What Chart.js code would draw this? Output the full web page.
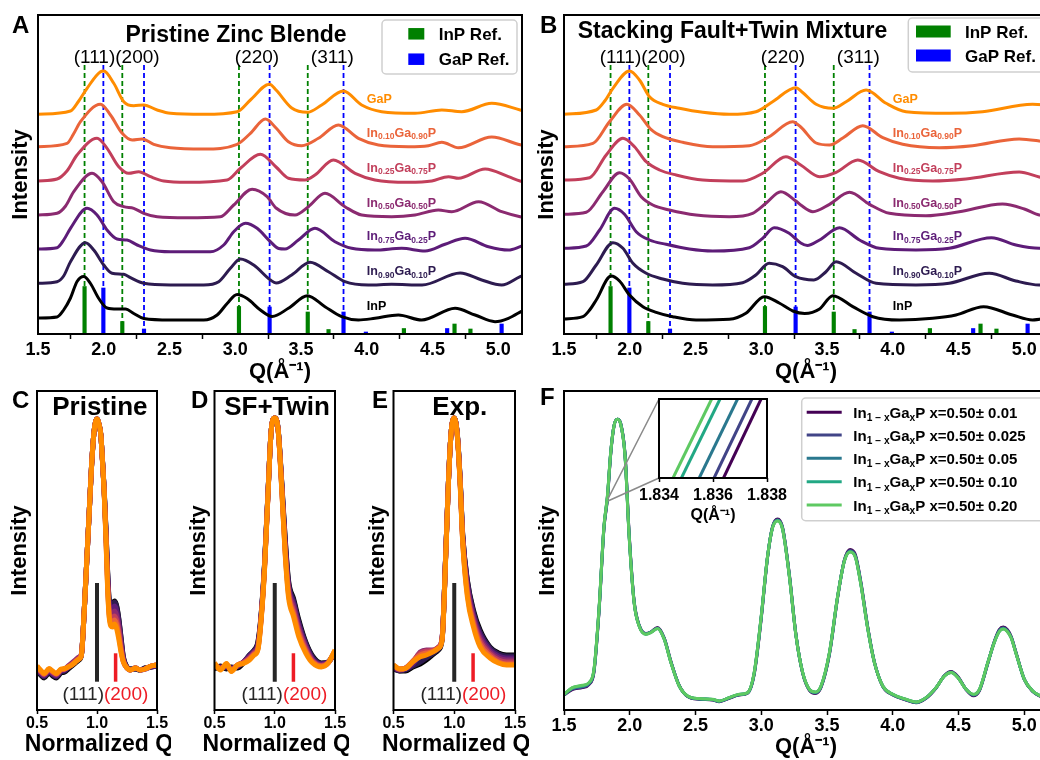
<!DOCTYPE html>
<html><head><meta charset="utf-8"><title>InGaP diffraction figure</title>
<script src="https://cdn.jsdelivr.net/npm/chart.js@4.4.1/dist/chart.umd.min.js"></script>
<style>
html,body{margin:0;padding:0;background:#fff;overflow:hidden;}
body{width:1040px;height:760px;position:relative;}
canvas{position:absolute;display:block;}
</style></head><body>
<canvas id="cA"></canvas><canvas id="cB"></canvas><canvas id="cC"></canvas><canvas id="cD"></canvas><canvas id="cE"></canvas><canvas id="cF"></canvas><canvas id="cIn"></canvas>
<script>
// ---------------- DATA ----------------
const sampleNames = ['InP','In0.90Ga0.10P','In0.75Ga0.25P','In0.50Ga0.50P','In0.25Ga0.75P','In0.10Ga0.90P','GaP'];

// reference reflections (Q in 1/A, bar height in a.u.)
const inpRefQ = [1.854, 2.141, 3.028, 3.551, 3.709, 4.282, 4.667, 4.788];
const inpRefI = [47.5, 12.5, 27.5, 22, 4.5, 5.5, 10, 5];
const gapRefQ = [1.997, 2.306, 3.261, 3.823, 3.993, 4.611, 5.025];
const gapRefI = [46, 5, 27, 22, 2, 5.5, 10];
const inpHklQ = [1.854, 2.141, 3.028, 3.551];
const gapHklQ = [1.997, 2.306, 3.261, 3.823];
const hklLineTop = 269;
const hklLabels = ['(111)(200)', '(220)', '(311)'];
const hklLabelQ = [2.098, 3.165, 3.738];
const refNames = ['InP Ref.', 'GaP Ref.'];

const xTicksQ = [1.5, 2.0, 2.5, 3.0, 3.5, 4.0, 4.5, 5.0];
const xTickLabelsQ = ['1.5','2.0','2.5','3.0','3.5','4.0','4.5','5.0'];
const xTicksN = [0.5, 1.0, 1.5];
const xTickLabelsN = ['0.5','1.0','1.5'];

// Panel A: pristine zinc blende, offset curves [Q, I]
const A_InP = [[1.5,16],[1.645,17],[1.695,24],[1.747,36],[1.797,52.5],[1.848,57.5],[1.899,50.5],[1.962,35.5],[2.025,26],[2.101,25],[2.165,25],[2.228,20.5],[2.304,15.5],[2.507,14],[2.76,14],[2.862,19],[2.938,30.5],[3.014,39.5],[3.09,35.5],[3.191,24],[3.28,17.5],[3.404,25.7],[3.548,38.3],[3.682,27.3],[3.809,17.3],[3.936,14],[4.062,15.7],[4.24,19],[4.417,14],[4.671,25.7],[4.823,19],[4.975,12.3],[5.077,15.7],[5.18,23]];
const A_In090 = [[1.5,50.7],[1.645,52.3],[1.695,58],[1.747,72.3],[1.861,91.3],[1.924,84],[2.0,69],[2.063,60.7],[2.152,59.7],[2.203,56.3],[2.304,50.7],[2.507,49],[2.76,49],[2.874,52.3],[2.963,65.7],[3.039,75],[3.14,69],[3.267,54],[3.31,51],[3.429,59],[3.568,71.7],[3.708,62.3],[3.834,52.3],[4.012,49],[4.189,49.7],[4.42,49],[4.71,61],[4.874,54],[5.026,49],[5.166,57.3],[5.18,58]];
const A_In075 = [[1.5,85],[1.645,86.3],[1.7,95],[1.747,105.7],[1.873,125.7],[1.949,119],[2.025,104],[2.101,95],[2.177,94],[2.254,89],[2.355,84],[2.507,82.3],[2.811,82.3],[2.912,89],[2.988,102.3],[3.077,110.7],[3.166,105.7],[3.267,92.3],[3.33,85.5],[3.378,85],[3.48,94],[3.606,105.7],[3.758,92.3],[3.885,85.7],[4.062,84],[4.265,85.7],[4.443,83],[4.595,89.7],[4.747,95.7],[4.925,87.3],[5.077,84],[5.166,87.3],[5.18,88]];
const A_In050 = [[1.5,119],[1.645,120.7],[1.71,128],[1.772,142.3],[1.911,160.7],[1.987,152.3],[2.076,132.3],[2.152,127.3],[2.228,125.7],[2.304,120.7],[2.406,117.3],[2.634,116.3],[2.887,117.3],[2.988,129],[3.128,144.7],[3.242,137.3],[3.31,126],[3.454,119],[3.556,127.3],[3.682,140.7],[3.834,127.3],[3.961,119],[4.189,117.3],[4.367,119],[4.544,124],[4.646,122.3],[4.85,132.3],[5.026,122.3],[5.166,117.3],[5.18,117]];
const A_In025 = [[1.5,153],[1.645,155],[1.72,163],[1.797,179],[1.949,195.7],[2.025,185.7],[2.114,167.3],[2.19,160.7],[2.266,162.3],[2.355,157.3],[2.456,153],[2.634,151.7],[2.938,154],[3.039,165.7],[3.191,179.7],[3.31,167],[3.404,155.7],[3.53,154],[3.606,159],[3.746,174],[3.911,160.7],[4.062,154],[4.316,151.7],[4.494,153],[4.621,157.3],[4.697,155.7],[4.9,165],[5.077,157.3],[5.166,153],[5.18,152.5]];
const A_In010 = [[1.5,187.3],[1.721,190.7],[1.77,200],[1.823,212.3],[1.975,229.7],[2.051,219],[2.14,200.7],[2.216,194],[2.292,195],[2.38,189.7],[2.507,186.3],[2.76,185],[3.014,189.7],[3.115,200.7],[3.229,215],[3.31,206],[3.404,192.3],[3.505,188.3],[3.632,195.7],[3.784,209],[3.936,195.7],[4.088,189],[4.316,187.3],[4.468,188.3],[4.57,191.7],[4.697,186.3],[4.95,197],[5.166,189.3],[5.18,189]];
const A_GaP = [[1.5,219.7],[1.747,223],[1.81,233],[1.873,245.7],[1.975,262.3],[2.0,263],[2.076,250.7],[2.152,232.3],[2.228,228.3],[2.304,229],[2.406,224],[2.507,220.7],[2.76,219.7],[3.014,222.3],[3.115,234],[3.26,249.7],[3.31,244],[3.429,226],[3.548,221.7],[3.657,229],[3.822,243],[3.961,229],[4.113,222.3],[4.367,220.7],[4.57,224],[4.722,222.3],[4.95,230.7],[5.166,224],[5.18,223.5]];

// Panel B: stacking fault + twin mixture
const B_InP = [[1.5,15],[1.644,17.3],[1.695,24],[1.745,34],[1.859,58],[1.922,53],[1.998,39],[2.1,27.3],[2.201,21.7],[2.327,17.3],[2.504,14],[2.757,14.7],[2.883,20.7],[3.023,37.3],[3.136,31],[3.24,23],[3.33,20.5],[3.443,25],[3.544,38.3],[3.696,27.3],[3.848,17.3],[4.05,14],[4.303,15.7],[4.48,19],[4.69,27.3],[4.91,19],[5.062,14],[5.18,16.5]];
const B_In090 = [[1.5,49.7],[1.644,52.3],[1.745,69],[1.872,91.3],[1.948,85.7],[2.024,70.7],[2.125,60.7],[2.251,55],[2.403,50.7],[2.63,49],[2.858,51.3],[2.959,59],[3.06,70.7],[3.162,67.3],[3.263,57.3],[3.4,54],[3.49,62],[3.569,72.3],[3.721,60.7],[3.873,50.7],[4.176,49],[4.429,50.7],[4.733,60.7],[4.936,53],[5.113,49],[5.18,50]];
const B_In075 = [[1.5,85.7],[1.669,88],[1.771,104],[1.884,125.7],[1.96,119.7],[2.049,102.3],[2.15,94],[2.276,89.7],[2.453,85],[2.63,83],[2.909,86.3],[3.01,95.7],[3.098,106.3],[3.212,100.7],[3.3,91],[3.35,88.5],[3.443,94],[3.595,106.3],[3.747,94],[3.898,85.7],[4.176,84],[4.429,85.7],[4.75,96.3],[4.936,89],[5.113,85.7],[5.18,86]];
const B_In050 = [[1.5,119.7],[1.669,121.7],[1.796,142.3],[1.922,161.3],[1.998,155],[2.087,137.3],[2.175,129],[2.302,124],[2.504,119],[2.757,117.3],[2.934,120.7],[3.035,130.7],[3.149,142.3],[3.263,133],[3.3,129],[3.392,122.3],[3.519,129.7],[3.671,141.7],[3.823,129.7],[3.974,120.7],[4.252,118.3],[4.505,122.3],[4.834,130],[5.0,125],[5.113,119],[5.18,118.5]];
const B_In025 = [[1.5,154],[1.695,156.3],[1.821,179],[1.948,195.7],[2.036,187.3],[2.125,172.3],[2.226,164],[2.352,159],[2.555,154],[2.858,153],[3.01,160.7],[3.187,177.3],[3.3,169],[3.443,157.3],[3.569,161.7],[3.734,174],[3.898,162.3],[4.05,155.7],[4.303,153],[4.556,155],[4.961,162],[5.113,157],[5.18,155]];
const B_In010 = [[1.5,187.3],[1.72,190.7],[1.846,212.3],[1.978,229.7],[2.074,219],[2.163,204.3],[2.251,197.3],[2.403,191.7],[2.63,187.3],[2.909,188.3],[3.06,197.3],[3.238,212.3],[3.3,207],[3.417,191],[3.519,189],[3.62,196],[3.772,208.3],[3.924,196.3],[4.075,189.7],[4.353,186.3],[4.606,188.3],[4.961,195],[5.113,193],[5.18,191.5]];
const B_GaP = [[1.5,219.7],[1.745,224],[1.81,233],[1.872,245.7],[1.998,263],[2.074,254],[2.15,237.3],[2.251,229.7],[2.377,225.7],[2.555,221.7],[2.757,219.7],[2.959,222.3],[3.086,232.3],[3.263,246.3],[3.31,242],[3.417,229.7],[3.544,225.7],[3.645,232.3],[3.797,244],[3.949,230.7],[4.1,222.3],[4.429,220.7],[4.682,222.3],[5.062,229.7],[5.18,229]];

// Panel C: pristine, normalized Q around (111)
const cQ = [0.5,0.53,0.56,0.6,0.63,0.66,0.7,0.73,0.76,0.79,0.82,0.85,0.87,0.894,0.915,0.936,0.955,0.977,1.0,1.02,1.032,1.045,1.06,1.075,1.088,1.1,1.115,1.13,1.145,1.16,1.18,1.2,1.22,1.25,1.28,1.32,1.36,1.4,1.45,1.5];
const C_InP  = [39,35,32,37,34,32,37,38,41,44,47,50,55,100,150,200,245,280,291,284,275,251,220,180,140,112,103,106,109,106,93,73,53,43,41,41,40,42,43,44];
const C_In090 = [40,36,33,38,35,33,38,39,42,45,48,51,55,100,150,200,245,280,291,284,275,251,219,179,139,111,101,105,108,105,92,72,52,43,41,41,40,42,43,44];
const C_In075 = [40,37,34,39,36,34,39,40,43,46,49,52,55,100,150,200,245,280,291,284,275,251,219,177,136,108,98,101,104,101,88,69,51,42,40,42,40,41,43,44];
const C_In050 = [41,38,35,40,37,35,40,41,44,47,50,53,56,100,150,200,245,280,291,284,275,250,218,175,132,104,94,96,99,96,84,65,50,42,40,42,40,41,44,45];
const C_In025 = [42,39,35.5,40.5,38,36,40,41,43.5,46,49,52,56,100,150,200,245,280,291,284,275,250,218,173,128,100,90,92,94,91,80,62,49,42,40,42,40,41,44,45];
const C_In010 = [43,39,36,41,38.5,36,40.5,41,43,45,48,51,55,100,150,200,245,280,291,284,275,250,217,171,125,97,87,88,90,87,76,60,48,42,40,42,40,41,44,45];
const C_GaP  = [44,40,36.5,41.5,39,36.5,41,41.5,43,45,48,51,55,100,150,200,245,280,291,284,275,250,217,170,123,95,84,83,86,83,72,58,48,42,40,42,40,41,44,45];

// Panel D: SF + twin
const dQ = [0.5,0.55,0.6,0.64,0.69,0.74,0.79,0.83,0.86,0.885,0.915,0.943,0.971,1.0,1.028,1.057,1.086,1.114,1.157,1.2,1.257,1.314,1.386,1.443,1.5];
const D_InP  = [41,44,41,43,42,47,55,60,68,93,146,216,280,292,281,230,173,130,111,90,68,54,47,48,57];
const D_In090 = [42,43,42,42,43,48,55,60,67,92,145,215,280,292,281,229,171,128,109,88,67,53,46.5,48,57];
const D_In075 = [43,43,43,42,44,48,54,59,65,91,144,215,280,292,281,228,168,125,106,85,65,51,46,48,58];
const D_In050 = [44,42,44,41,44,48,53,58,64,90,143,214,280,292,280,226,164,122,103,82,63,50,45,47.5,58];
const D_In025 = [45,42,45,40,45,47.5,52,57,62,89,142,214,280,292,280,225,161,119,99,79,61,49,44.5,47,59];
const D_In010 = [46,41,46,39,45,47,51,56,61,88,141,213,280,292,280,224,159,116,96,76,59,48,44,47,59];
const D_GaP  = [47,40,46.5,38.5,45,46.5,50,55,60,87,140,213,280,292,280,223,157,113,93,73,57,47,43,47,60];

// Panel E: experiment
const eQ = [0.5,0.55,0.6,0.66,0.72,0.77,0.83,0.87,0.9,0.932,0.952,0.974,1.0,1.026,1.048,1.07,1.108,1.158,1.213,1.295,1.364,1.43,1.5];
const E_InP  = [41,39,39,43,46,50,56,60,70,163,228,277,292,275,232,175,130,100,80,63,57,55,55];
const E_In090 = [41,39,40,44,48,52,57,61,71,163,228,277,292,275,232,174,129,98,78,62,56,54,54];
const E_In075 = [42,40,41,46,55,57,59,62,72,163,228,277,292,274,231,173,126,95,75,60,54,52,52];
const E_In050 = [43,40,42,48,58,60,60,63,72,162,228,277,292,274,230,171,122,92,72,58,52,50,50];
const E_In025 = [44,41,42,49,57,59,60,63,72,162,227,277,292,274,229,169,119,89,69,56,50,48,48];
const E_In010 = [45,41,42,49,55,57,59,62,71,161,227,277,292,273,228,168,116,86,66,54,48,46,46];
const E_GaP  = [45,41,41.7,48.3,53.3,55,58.3,61.7,70,160,227,277,292,273,227,167,113,83,63,52,47,45,45];

// (111) and (200) markers for C-E
const hklMarkQ = [1.0, 1.155];
const hklMarkTop = [127, 56.7];
const hklMarkBase = 28.3;

// Panel F: composition-spread simulations
const fUncert = ['0.01','0.025','0.05','0.10','0.20'];
const fQ = [1.5,1.563,1.64,1.69,1.728,1.766,1.804,1.83,1.855,1.88,
  1.906,1.931,1.964,1.995,2.033,2.071,2.122,2.16,2.211,2.262,
  2.313,2.376,2.44,2.528,2.63,2.68,2.756,2.832,2.896,2.946,
  2.997,3.048,3.086,3.124,3.162,3.213,3.264,3.315,3.366,3.411,
  3.454,3.518,3.581,3.632,3.675,3.716,3.759,3.81,3.86,3.924,
  4.0,4.1,4.177,4.253,4.329,4.393,4.443,4.494,4.557,4.613,
  4.659,4.722,4.773,4.81,4.84,4.87,4.9,4.938,5.0,5.064,
  5.115,5.18];
const F_001 = [15,20.5,22.5,25.5,38,98,182,211,256,284,
  290.7,286.5,256,177,109,85,76.5,78,82.5,72,
  48.5,24.5,13.5,10.7,10,8.3,11.7,15,16.7,35.5,
  88.5,153,183.5,191,182.5,136,75,36.5,19.5,16.5,
  22.5,55.5,113,150,160.5,155,126.5,82.5,48,23.5,
  15,10,7.3,11.7,22,34.5,38.5,33.5,20.5,14.3,
  19.5,46.5,69,80.5,83,80.5,73.5,57,30.5,18.5,
  14,11.5];
const F_0025 = [15.2,21,23,26,38.8,98.8,182.6,212,256.5,284,
  290.7,286.3,255.5,176,108.5,84.7,76.2,77.8,82,71.6,
  48,24.3,13.7,11,10.3,8.6,12,15.3,17,36.2,
  89.3,153.4,183.1,190.3,181.8,135.2,74.6,37,20,17.1,
  23.1,56.2,113.4,149.6,159.6,154,125.6,81.8,47.8,23.7,
  15.3,10.3,7.6,12,22.2,34.3,38.1,33.1,20.6,14.8,
  20,46.8,68.6,79.8,82.2,79.8,73,56.6,30.6,18.7,
  14.3,11.7];
const F_005 = [15.4,21.6,23.7,26.6,39.6,99.6,183.2,212.8,257,284,
  290.7,286,254.8,175.2,108,84.4,76,77.6,81.8,71.2,
  47.8,24.1,13.8,11.2,10.5,8.8,12.2,15.5,17.2,36.8,
  90,153.7,182.8,189.7,181.3,134.6,74.3,37.2,20.3,17.5,
  23.5,56.8,113.7,149.3,158.8,153.2,124.8,81.2,47.6,23.8,
  15.5,10.5,7.8,12.2,22.3,34.2,37.8,32.8,20.7,15.2,
  20.3,47.1,68.3,79.1,81.6,79.1,72.5,56.3,30.7,18.8,
  14.5,11.8];
const F_010 = [15.6,22.1,24.3,27.1,40.2,100.2,183.6,213.5,257.2,284,
  290.7,285.8,254.3,174.5,107.6,84.2,75.8,77.5,81.6,70.9,
  47.6,24,13.9,11.3,10.6,8.9,12.3,15.6,17.3,37.1,
  90.4,153.9,182.6,189.3,180.9,134.2,74.1,37.3,20.5,17.8,
  23.8,57.1,113.9,149.1,158.3,152.7,124.3,80.9,47.5,23.9,
  15.6,10.6,7.9,12.3,22.4,34.1,37.6,32.6,20.7,15.5,
  20.5,47.3,68.1,78.7,81.2,78.7,72.2,56.1,30.7,18.9,
  14.6,11.9];
const F_020 = [15.7,22.4,24.7,27.4,40.7,100.7,184,214,257.4,284,
  290.7,285.7,254,174,107.4,84,75.7,77.4,81.4,70.7,
  47.4,24,14,11.4,10.7,9,12.4,15.7,17.4,37.4,
  90.7,154,182.4,189,180.7,134,74,37.4,20.7,18,
  24,57.4,114,149,158,152.4,124,80.7,47.4,24,
  15.7,10.7,8,12.4,22.4,34,37.4,32.4,20.7,15.7,
  20.7,47.4,68,78.5,81,78.5,72,56,30.7,19,
  14.7,12];
// inset: leading-edge crossing of each curve (bottom / top of inset window)
const insetTicks = [1.834, 1.836, 1.838];
const insetTickLabels = ['1.834','1.836','1.838'];
const insetQLo = [1.83639, 1.83604, 1.83549, 1.83483, 1.83452];
const insetQHi = [1.83778, 1.83744, 1.83691, 1.83626, 1.83595];
const insetYLo = 209.0;
const insetYHi = 211.05;

// ---------------- STYLE ----------------
const FONT = '"Liberation Sans", Arial, Helvetica, sans-serif';
const sampleColors = ['#000000','#2d1b50','#5d1c78','#8b2a70','#c23f5b','#ea643a','#ff8c00'];
const refColors = ['#008000', '#0000ff'];
const fColors = ['#440154','#414487','#2a788e','#22a884','#5ec962'];
const RED = '#ee1c25';
Chart.defaults.font.family = FONT;
Chart.defaults.color = '#000';

// ---------------- HELPERS ----------------
function place(id, l, t, w, h) {
  const c = document.getElementById(id);
  c.width = w; c.height = h;
  c.style.left = l + 'px'; c.style.top = t + 'px';
  c.style.width = w + 'px'; c.style.height = h + 'px';
  return c;
}
function txt(ctx, s, x, y, size, weight, color, align, base) {
  ctx.font = weight + ' ' + size + 'px ' + FONT;
  ctx.fillStyle = color; ctx.textAlign = align || 'left'; ctx.textBaseline = base || 'alphabetic';
  ctx.fillText(s, x, y);
}
function rich(ctx, segs, x, y, size, weight, color, align) {
  const sub = size * 0.68;
  let w = 0;
  segs.forEach(([t, m]) => { ctx.font = weight + ' ' + (m ? sub : size) + 'px ' + FONT; w += ctx.measureText(t).width; });
  let cx = align === 'center' ? x - w / 2 : align === 'right' ? x - w : x;
  ctx.fillStyle = color; ctx.textAlign = 'left'; ctx.textBaseline = 'alphabetic';
  segs.forEach(([t, m]) => {
    ctx.font = weight + ' ' + (m ? sub : size) + 'px ' + FONT;
    ctx.fillText(t, cx, y + (m === 'sub' ? size * 0.22 : m === 'sup' ? -size * 0.4 : 0));
    cx += ctx.measureText(t).width;
  });
}
function formulaSegs(name) {
  return name.match(/[A-Za-z]+|[0-9.]+/g).map(t => /[0-9]/.test(t) ? [t, 'sub'] : [t, '']);
}
function roundRect(ctx, x, y, w, h, r) {
  ctx.beginPath(); ctx.moveTo(x + r, y);
  ctx.arcTo(x + w, y, x + w, y + h, r); ctx.arcTo(x + w, y + h, x, y + h, r);
  ctx.arcTo(x, y + h, x, y, r); ctx.arcTo(x, y, x + w, y, r); ctx.closePath();
}
function legendBox(ctx, x, y, w, h) {
  roundRect(ctx, x, y, w, h, 4);
  ctx.fillStyle = 'rgba(255,255,255,0.85)'; ctx.fill();
  ctx.strokeStyle = '#cfcfcf'; ctx.lineWidth = 1.5; ctx.stroke();
}
const lineDS = (pts, color, width, order, extra) => Object.assign({
  type: 'line', data: pts.map(p => ({x: p[0], y: p[1]})), borderColor: color, borderWidth: width,
  pointRadius: 0, fill: false, cubicInterpolationMode: 'monotone', order: order
}, extra || {});
const seriesDS = (qs, vals, color, width, order) => lineDS(qs.map((q, i) => [q, vals[i]]), color, width, order);
function vlinesDS(qs, top, color) {
  const d = [];
  qs.forEach(q => { d.push({x: q, y: 0}, {x: q, y: top}, {x: q, y: null}); });
  return {type: 'line', data: d, borderColor: color, borderWidth: 1.8, borderDash: [5, 3], pointRadius: 0, spanGaps: false, tension: 0, order: 20};
}
const barDS = (qs, hs, color) => ({
  type: 'bar', data: qs.map((q, i) => ({x: q, y: hs[i]})), backgroundColor: color, borderWidth: 0,
  barThickness: 3.5, grouped: false, order: 30
});

function makeChart(o) {
  const [bl, bt, bw, bh] = o.box;
  const [L, T, R, B] = o.plot;
  const cv = place(o.id, bl, bt, bw, bh);
  const px = v => v - bl, py = v => v - bt;
  const annot = {
    id: 'annot_' + o.id,
    afterDraw(chart) {
      const ctx = chart.ctx; ctx.save();
      if (o.draw) o.draw(chart, ctx, px, py);
      const a = chart.chartArea;
      ctx.strokeStyle = '#000'; ctx.lineWidth = o.frameW || 2;
      ctx.strokeRect(a.left, a.top, a.right - a.left, a.bottom - a.top);
      ctx.restore();
    }
  };
  return new Chart(cv, {
    type: 'line',
    data: {datasets: o.datasets},
    options: {
      responsive: false, animation: false, devicePixelRatio: 1, events: [],
      layout: {padding: {left: 0, top: T - bt, right: bl + bw - R, bottom: 0}, autoPadding: false},
      plugins: {legend: {display: false}, tooltip: {enabled: false}},
      scales: {
        x: {
          type: 'linear', min: o.xmin, max: o.xmax, offset: false,
          afterBuildTicks: s => { s.ticks = o.ticks.map(v => ({value: v})); },
          afterFit: s => { s.height = bt + bh - B; },
          ticks: {autoSkip: false, maxRotation: 0, minRotation: 0, padding: o.tickPad || 0, color: '#000',
            font: {family: FONT, size: o.tickSize, weight: 'bold'}, callback: (v, i) => o.tickLabels[i]},
          grid: {display: true, drawOnChartArea: false, drawTicks: true, tickLength: o.tickLen || 5, tickWidth: 1.5, tickColor: '#000', color: '#000'},
          border: {display: false},
          title: {display: !!o.xTitle, text: o.xTitle || '', color: '#000', font: {family: FONT, size: o.xTitleSize, weight: 'bold'}, padding: {top: 0, bottom: o.xTitlePad || 0}}
        },
        y: {
          type: 'linear', min: o.ymin, max: o.ymax,
          afterFit: s => { s.width = L - bl; },
          ticks: {display: false}, grid: {display: false}, border: {display: false},
          title: {display: !!o.yTitle, text: o.yTitle || '', color: '#000', font: {family: FONT, size: 22, weight: 'bold'}, padding: {top: o.yTitlePad || 0, bottom: 0}}
        }
      }
    },
    plugins: [annot]
  });
}

// ---------------- PANELS A & B ----------------
const curveLabelQ = 4.0;
const curveLabelV = [24, 59, 94, 127.5, 162.5, 197.3, 230.7];

function spectrumPanel(id, box, plot, curves, lay) {
  const ds = [];
  curves.forEach((c, k) => ds.push(lineDS(c, sampleColors[k], 3, 10 - k)));
  ds.push(vlinesDS(inpHklQ, hklLineTop, refColors[0]));
  ds.push(vlinesDS(gapHklQ, hklLineTop, refColors[1]));
  ds.push(barDS(inpRefQ, inpRefI, refColors[0]));
  ds.push(barDS(gapRefQ, gapRefI, refColors[1]));
  return makeChart({
    id, box, plot, datasets: ds, xmin: 1.5, xmax: 5.18, ymin: 0, ymax: plot[3] - plot[1],
    ticks: xTicksQ, tickLabels: xTickLabelsQ, tickSize: 18, tickLen: 5,
    xTitle: 'Q(Å⁻¹)', xTitleSize: 22, xTitlePad: 9, yTitle: 'Intensity', yTitlePad: lay.yTitlePad,
    draw(chart, ctx, px, py) {
      const xs = chart.scales.x, ys = chart.scales.y;
      txt(ctx, lay.letter, px(lay.letterXY[0]), py(lay.letterXY[1]), 24, 'bold', '#000', 'left');
      txt(ctx, lay.title, px(lay.titleXY[0]), py(lay.titleXY[1]), 23, 'bold', '#000', 'center');
      hklLabels.forEach((t, i) => txt(ctx, t, xs.getPixelForValue(hklLabelQ[i]), py(lay.hklY), 19, 'normal', '#000', 'center'));
      const lg = lay.legend;
      legendBox(ctx, px(lg.box[0]), py(lg.box[1]), lg.box[2], lg.box[3]);
      refNames.forEach((n, i) => {
        ctx.fillStyle = refColors[i];
        ctx.fillRect(px(lg.hx), py(lg.rows[i] - lg.hh / 2), lg.hw, lg.hh);
        txt(ctx, n, px(lg.tx), py(lg.rows[i] + 6), 17, 'bold', '#000', 'left');
      });
      sampleNames.forEach((n, k) => rich(ctx, formulaSegs(n), xs.getPixelForValue(curveLabelQ), ys.getPixelForValue(curveLabelV[k]), 12.5, 'bold', sampleColors[k], 'left'));
    }
  });
}

spectrumPanel('cA', [0, 0, 530, 394], [38, 15, 522, 334],
  [A_InP, A_In090, A_In075, A_In050, A_In025, A_In010, A_GaP],
  {letter: 'A', letterXY: [12, 33], title: 'Pristine Zinc Blende', titleXY: [236, 42], hklY: 62.7, yTitlePad: 8,
   legend: {box: [382, 20, 135, 54], hx: 408.3, hw: 16, hh: 11.5, rows: [33.8, 59.2], tx: 438.7}});
spectrumPanel('cB', [526, 0, 530, 394], [564, 15, 1048, 334],
  [B_InP, B_In090, B_In075, B_In050, B_In025, B_In010, B_GaP],
  {letter: 'B', letterXY: [540, 33], title: 'Stacking Fault+Twin Mixture', titleXY: [732.5, 38.3], hklY: 63.3, yTitlePad: 7.5,
   legend: {box: [908.3, 18, 160, 54], hx: 916, hw: 34.7, hh: 12, rows: [31.5, 55.5], tx: 965}});

// ---------------- PANELS C, D, E ----------------
function peakPanel(id, box, plot, Q, series, lay) {
  const ds = [];
  series.forEach((arr, k) => ds.push(seriesDS(Q, arr, sampleColors[k], 5, 10 - k)));
  ds.push(lineDS([[hklMarkQ[0], hklMarkBase], [hklMarkQ[0], hklMarkTop[0]]], '#262626', 4, 20, {cubicInterpolationMode: 'default'}));
  ds.push(lineDS([[hklMarkQ[1], hklMarkBase], [hklMarkQ[1], hklMarkTop[1]]], RED, 3.5, 20, {cubicInterpolationMode: 'default'}));
  return makeChart({
    id, box, plot, datasets: ds, xmin: 0.5, xmax: 1.5, ymin: 0, ymax: plot[3] - plot[1],
    ticks: xTicksN, tickLabels: xTickLabelsN, tickSize: 16, tickLen: 4,
    xTitle: null, yTitle: 'Intensity', yTitlePad: lay.yTitlePad,
    draw(chart, ctx, px, py) {
      const xs = chart.scales.x, a = chart.chartArea;
      txt(ctx, lay.letter, px(lay.letterXY[0]), py(lay.letterXY[1]), 24, 'bold', '#000', 'left');
      txt(ctx, lay.title, px(lay.titleX), py(415), 26, 'bold', '#000', 'center');
      const jx = xs.getPixelForValue(lay.joinQ);
      txt(ctx, '(111)', jx, py(700), 19, 'normal', '#262626', 'right');
      txt(ctx, '(200)', jx, py(700), 19, 'normal', RED, 'left');
      // x-axis title (wider than the plot, so drawn without width compression)
      txt(ctx, 'Normalized Q', (a.left + a.right) / 2 + 2, py(745), 23, 'bold', '#000', 'center', 'middle');
    }
  });
}
peakPanel('cC', [0, 380, 171, 380], [37, 391, 157, 710], cQ,
  [C_InP, C_In090, C_In075, C_In050, C_In025, C_In010, C_GaP],
  {letter: 'C', letterXY: [12, 408.3], title: 'Pristine', titleX: 99.9, joinQ: 1.058, yTitlePad: 6.6});
peakPanel('cD', [177, 380, 172, 380], [214.5, 391, 335, 710], dQ,
  [D_InP, D_In090, D_In075, D_In050, D_In025, D_In010, D_GaP],
  {letter: 'D', letterXY: [191, 408.3], title: 'SF+Twin', titleX: 277, joinQ: 1.068, yTitlePad: 8.3});
peakPanel('cE', [356, 380, 173, 380], [393.5, 391, 515, 710], eQ,
  [E_InP, E_In090, E_In075, E_In050, E_In025, E_In010, E_GaP],
  {letter: 'E', letterXY: [372, 408.3], title: 'Exp.', titleX: 459.8, joinQ: 1.064, yTitlePad: 8.3});

// ---------------- PANEL F ----------------
const fSeries = [F_001, F_0025, F_005, F_010, F_020];
const fBox = [526, 380, 530, 380];
const chartF = makeChart({
  id: 'cF', box: fBox, plot: [564, 391, 1048, 710],
  datasets: fSeries.map((arr, k) => seriesDS(fQ, arr, fColors[k], 3, 10 - k)),
  xmin: 1.5, xmax: 5.18, ymin: 0, ymax: 319,
  ticks: xTicksQ, tickLabels: xTickLabelsQ, tickSize: 18, tickLen: 5,
  xTitle: 'Q(Å⁻¹)', xTitleSize: 22, xTitlePad: 0, yTitle: 'Intensity', yTitlePad: 8.8,
  draw(chart, ctx, px, py) {
    txt(ctx, 'F', px(540), py(405), 24, 'bold', '#000', 'left');
    legendBox(ctx, px(801.7), py(398), 270, 122.7);
    const rows = [412.3, 435, 458.3, 481.7, 505];
    fUncert.forEach((u, k) => {
      ctx.strokeStyle = fColors[k]; ctx.lineWidth = 3;
      ctx.beginPath(); ctx.moveTo(px(806.7), py(rows[k])); ctx.lineTo(px(841.7), py(rows[k])); ctx.stroke();
      rich(ctx, [['In', ''], ['1 − x', 'sub'], ['Ga', ''], ['x', 'sub'], ['P x=0.50± ' + u, '']], px(853.3), py(rows[k] + 5.5), 15, 'bold', '#000', 'left');
    });
  }
});

// inset of panel F
const inBox = [600, 395, 200, 135];
makeChart({
  id: 'cIn', box: inBox, plot: [659, 399, 767, 478],
  datasets: insetQLo.map((q, k) => lineDS([[q, insetYLo], [insetQHi[k], insetYHi]], fColors[k], 3, 10 - k, {cubicInterpolationMode: 'default'})),
  xmin: 1.834, xmax: 1.838, ymin: insetYLo, ymax: insetYHi,
  ticks: insetTicks, tickLabels: insetTickLabels, tickSize: 16, tickLen: 4, tickPad: 4,
  xTitle: 'Q(Å⁻¹)', xTitleSize: 16, xTitlePad: 5, yTitle: null,
  draw(chart, ctx, px, py) {
    const fx = chartF.scales.x, fy = chartF.scales.y, a = chart.chartArea;
    const ox = fBox[0] - inBox[0], oy = fBox[1] - inBox[1];
    const mx = fx.getPixelForValue(insetTicks[0]) + ox;
    ctx.strokeStyle = '#8a8a8a'; ctx.lineWidth = 1.5;
    ctx.beginPath();
    ctx.moveTo(mx, fy.getPixelForValue(insetYHi) + oy); ctx.lineTo(a.left, a.top);
    ctx.moveTo(mx, fy.getPixelForValue(insetYLo) + oy); ctx.lineTo(a.left, a.bottom);
    ctx.stroke();
  }
});
</script></body></html>
